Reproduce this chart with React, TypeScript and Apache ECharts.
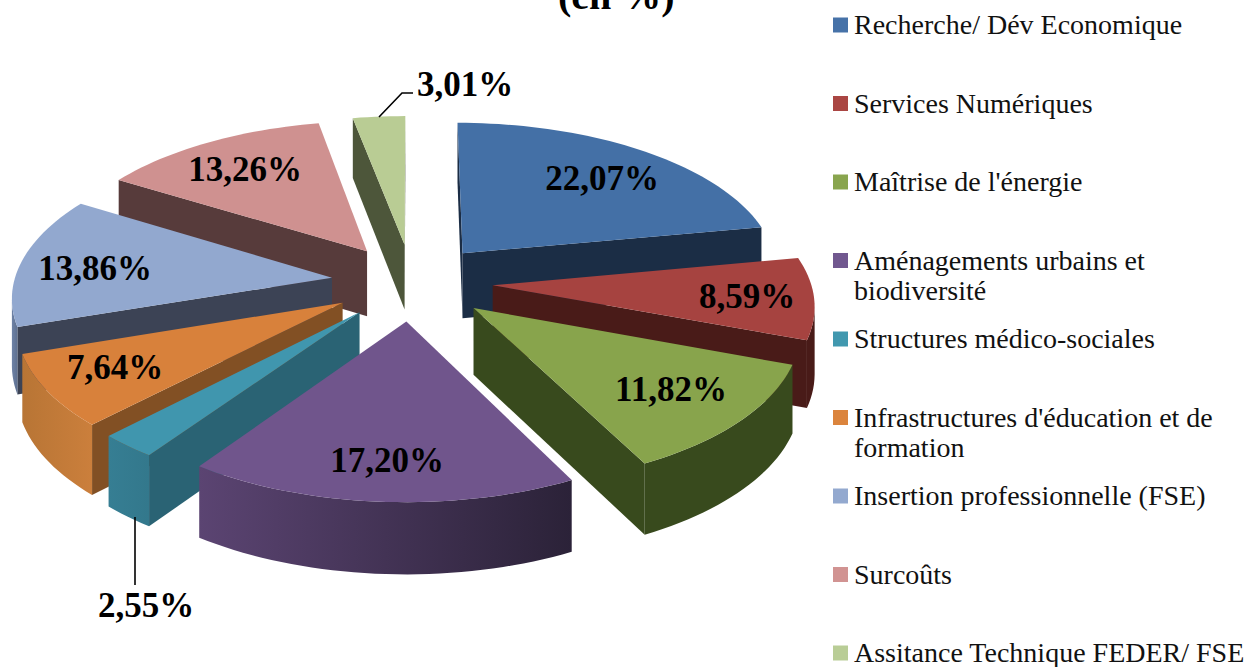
import React, { useEffect, useRef } from "react";
import * as echarts from "echarts";

const categories = [
  "Recherche/ Dév Economique",
  "Services Numériques",
  "Maîtrise de l'énergie",
  "Aménagements urbains et\nbiodiversité",
  "Structures médico-sociales",
  "Infrastructures d'éducation et de\nformation",
  "Insertion professionnelle (FSE)",
  "Surcoûts",
  "Assitance Technique FEDER/ FSE",
];
const values = [22.07, 8.59, 11.82, 17.2, 2.55, 7.64, 13.86, 13.26, 3.01];
const topColors = ["#4470A6", "#A64340", "#88A44C", "#70558C", "#4096AE", "#D8813B", "#92A8CF", "#CF9190", "#B9CC94"];
const legendColors = ["#4672A8", "#AA4643", "#89A54E", "#71588F", "#4198AF", "#DB843D", "#93A9CF", "#D19392", "#B9CD96"];
const radialWallColors = ["#1B2D45", "#491B18", "#384A1D", "#2C2238", "#2A6374", "#825024", "#3C4355", "#573B3B", "#4D563A"];
const outerWallLeft = ["#1B2D45", "#491B18", "#384A1D", "#5B4472", "#367E93", "#B87535", "#6E82A6", "#6E4E4E", "#4D563A"];
const outerWallRight = ["#1B2D45", "#491B18", "#384A1D", "#2B2238", "#33788C", "#CB7F3C", "#5E7090", "#6E4E4E", "#4D563A"];

const FONT = "'Liberation Serif', serif";
// Geometry of the exploded, tilted pie
const CX = 412, CY = 282, RADIUS = 318, TILT = 151 / 318, PERSP = 0.112, DEPTH = 66, DEPTH_PERSP = 0.075, EXPLODE = 0.254;
// Layout of texts (centre of each data label)
const LABEL_LAYOUT = [
  [602, 178], [747, 296], [671, 389], [387, 460], [146, 605], [115, 367], [95, 268], [245, 169], [465, 84],
];
const LEGEND_X = 833, LEGEND_PITCH = 78.5, LEGEND_TOP = 25;
const LEADERS = [
  [[379, 117], [402, 93], [413, 93]],
  [[135, 517], [135, 585]],
];

const fmt = (v: number) => v.toFixed(2).replace(".", ",") + "%";

const rad = (pct: number) => (pct / 100) * Math.PI * 2;
const project = (X: number, Y: number) => {
  const f = 1 / (1 - PERSP * Y);
  return { x: CX + RADIUS * X * f, y: CY + RADIUS * TILT * Y * f, d: DEPTH * (1 + DEPTH_PERSP * Y) };
};

const slices = values.map((v, i) => {
  const before = values.slice(0, i).reduce((a, b) => a + b, 0);
  return { index: i, start: rad(before), end: rad(before + v), mid: rad(before + v / 2) };
});
const drawOrder = [...slices].sort((a, b) => Math.cos(b.mid) - Math.cos(a.mid));

function renderSlice(_params: any, api: any) {
  const s = drawOrder[api.value(0)];
  const i = s.index;
  const ox = EXPLODE * Math.sin(s.mid);
  const oy = -EXPLODE * Math.cos(s.mid);
  const apex = project(ox, oy);
  const arc: any[] = [];
  const steps = Math.max(4, Math.ceil((s.end - s.start) / 0.03));
  for (let k = 0; k <= steps; k++) {
    const a = s.start + ((s.end - s.start) * k) / steps;
    arc.push(project(ox + Math.sin(a), oy - Math.cos(a)));
  }
  const wall = (p: any, q: any) => [
    [p.x, p.y], [q.x, q.y], [q.x, q.y + q.d], [p.x, p.y + p.d],
  ];
  const z0 = api.value(0) * 10 + 1;
  const children: any[] = [];
  const first = arc[0];
  const last = arc[arc.length - 1];
  const radial = radialWallColors[i];
  if (first.x < apex.x) {
    children.push({ type: "polygon", z2: z0, shape: { points: wall(apex, first) }, style: { fill: radial } });
  }
  if (apex.x < last.x) {
    children.push({ type: "polygon", z2: z0, shape: { points: wall(last, apex) }, style: { fill: radial } });
  }
  // Outer rim: only the part of the arc that faces the viewer
  const visible = arc.filter((p, k) => {
    const prev = arc[Math.max(0, k - 1)];
    const next = arc[Math.min(arc.length - 1, k + 1)];
    return next.x < prev.x;
  });
  if (visible.length > 1) {
    const pts = visible.map((p) => [p.x, p.y]).concat(
      [...visible].reverse().map((p) => [p.x, p.y + p.d])
    );
    children.push({
      type: "polygon",
      z2: z0 + 1,
      shape: { points: pts },
      style: {
        fill: {
          type: "linear", x: 0, y: 0, x2: 1, y2: 0,
          colorStops: [
            { offset: 0, color: outerWallLeft[i] },
            { offset: 1, color: outerWallRight[i] },
          ],
        },
      },
    });
  }
  children.push({
    type: "polygon",
    z2: z0 + 2,
    shape: { points: [[apex.x, apex.y], ...arc.map((p) => [p.x, p.y])] },
    style: { fill: topColors[i] },
  });
  return { type: "group", children };
}

export default function App() {
  const ref = useRef<HTMLDivElement>(null);
  useEffect(() => {
    document.body.style.margin = "0";
    const chart = echarts.init(ref.current!, undefined, { renderer: "svg" });
    const legendItems = categories.flatMap((name, i) => {
      const y = LEGEND_TOP + i * LEGEND_PITCH;
      return [
        { type: "rect", z: 20, shape: { x: LEGEND_X, y: y - 7.5, width: 15, height: 15 }, style: { fill: legendColors[i] } },
        {
          type: "text", z: 20, x: LEGEND_X + 21, y: y - 15.5,
          style: { text: name, font: `28px ${FONT}`, fill: "#111", lineHeight: 30.5, verticalAlign: "top" },
        },
      ];
    });
    const labels = values.map((v, i) => ({
      type: "text", z: 30, x: LABEL_LAYOUT[i][0], y: LABEL_LAYOUT[i][1],
      style: { text: fmt(v), font: `bold 35px ${FONT}`, fill: "#000", align: "center", verticalAlign: "middle" },
    }));
    const leaders = LEADERS.map((pts) => ({
      type: "polyline", z: 25, shape: { points: pts }, style: { stroke: "#000", lineWidth: 1.6, fill: "none" },
    }));
    chart.setOption({
      animation: false,
      title: {
        text: "(en %)", left: 553, top: -30,
        textStyle: { fontFamily: FONT, fontWeight: "bold", fontSize: 40, color: "#000" },
      },
      series: [
        {
          type: "custom",
          coordinateSystem: "none",
          renderItem: renderSlice,
          data: drawOrder.map((_, k) => [k]),
          silent: true,
        },
      ],
      graphic: [...leaders, ...labels, ...legendItems],
    });
    return () => chart.dispose();
  }, []);
  return <div ref={ref} style={{ width: 1247, height: 667 }} />;
}
